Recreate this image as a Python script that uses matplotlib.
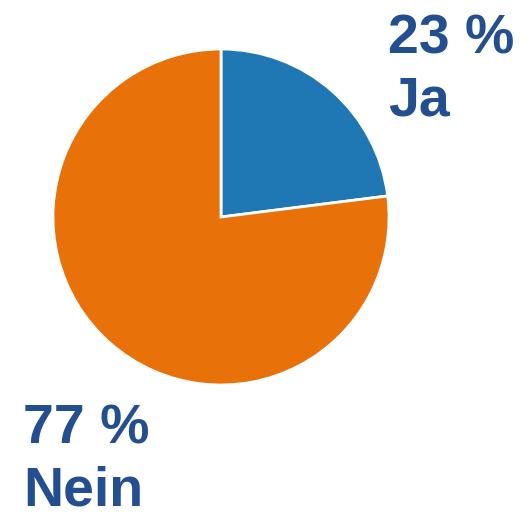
import matplotlib
matplotlib.use("Agg")
import matplotlib.pyplot as plt

# data
labels = ["Ja", "Nein"]
shares = [23, 77]
colors = ["#1f77b4", "#e8710a"]
text_color = "#234e8f"

W, H = 529, 518
fig = plt.figure(figsize=(W / 100, H / 100), dpi=100)

# pie centre ~ (221, 217) px, radius ~ 168 px
cx, cy, r = 221, 217, 168
ax = fig.add_axes([(cx - r) / W, (H - cy - r) / H, 2 * r / W, 2 * r / H])
ax.pie(shares, colors=colors, startangle=90, counterclock=False, radius=1,
       wedgeprops=dict(edgecolor="white", linewidth=2))
ax.set_xlim(-1, 1)
ax.set_ylim(-1, 1)
ax.set_aspect("equal")
ax.axis("off")

font = dict(family=["Liberation Sans", "DejaVu Sans"], fontsize=40,
            fontweight="bold", color=text_color, va="baseline", ha="left")

# label blocks: (x px, baseline px) for the percent line and the name line
fig.text(388 / W, 1 - 53 / H, f"{shares[0]} %", **font)
fig.text(388 / W, 1 - 116 / H, labels[0], **font)
fig.text(23 / W, 1 - 443 / H, f"{shares[1]} %", **font)
fig.text(23 / W, 1 - 506 / H, labels[1], **font)

fig.savefig("out.png", dpi=100)
